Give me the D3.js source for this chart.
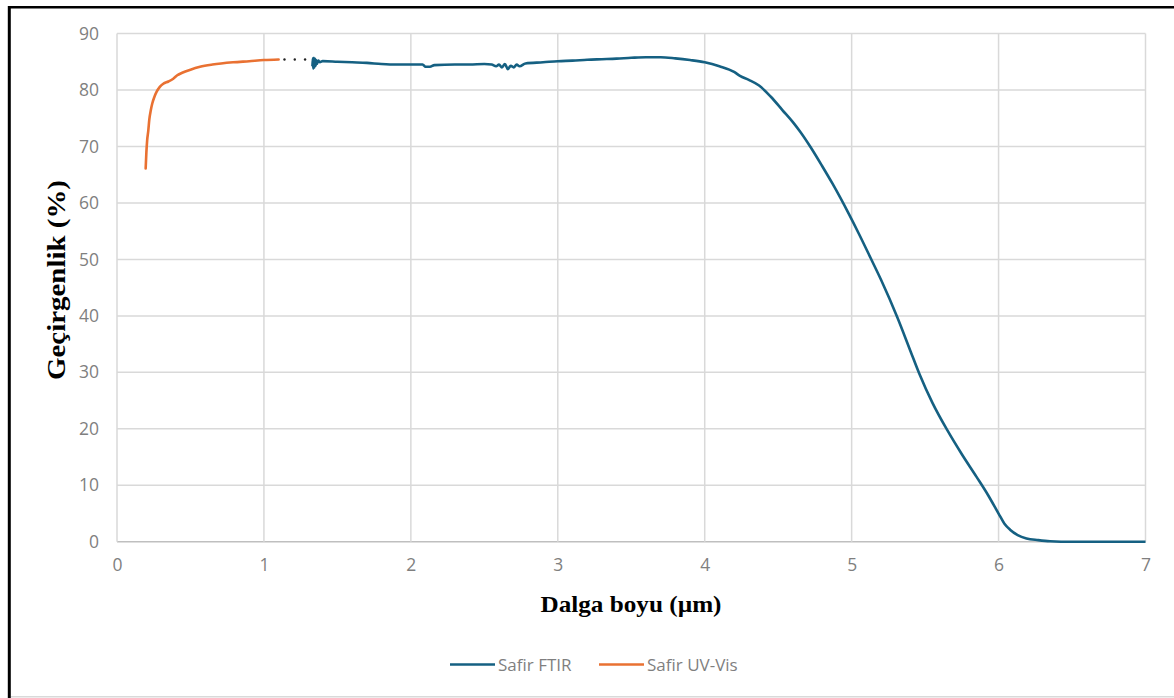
<!DOCTYPE html>
<html>
<head>
<meta charset="utf-8">
<script src="https://cdn.jsdelivr.net/npm/d3@7/dist/d3.min.js"></script>
<style>
html,body{margin:0;padding:0;background:#fff;}
svg{display:block;}
</style>
</head>
<body>
<svg id="chart" width="1174" height="698"></svg>
<script>
// ---- data ----
const xTicks = [0,1,2,3,4,5,6,7];
const yTicks = [0,10,20,30,40,50,60,70,80,90];
const seriesNames = ["Safir FTIR", "Safir UV-Vis"];
const uvVis = [[0.195,66.1],[0.2,69.0],[0.205,71.0],[0.213,72.8],[0.22,74.8],[0.23,76.4],[0.24,77.6],[0.255,78.8],[0.27,79.7],[0.29,80.5],[0.315,81.1],[0.35,81.5],[0.383,82.0],[0.41,82.6],[0.44,83.0],[0.5,83.6],[0.565,84.1],[0.65,84.5],[0.79,84.9],[0.9,85.1],[1.0,85.3],[1.1,85.4]];
const ftir = [[1.33,84.2],[1.333,85.6],[1.336,83.8],[1.34,85.7],[1.344,84.0],[1.348,85.5],[1.352,84.3],[1.356,85.3],[1.36,84.6],[1.37,85.2],[1.38,84.9],[1.4,85.1],[1.5,85.0],[1.6,84.9],[1.7,84.8],[1.8,84.6],[1.9,84.5],[2.0,84.5],[2.08,84.5],[2.1,84.1],[2.13,84.1],[2.16,84.4],[2.3,84.5],[2.4,84.5],[2.5,84.6],[2.55,84.5],[2.58,84.2],[2.6,84.5],[2.62,84.0],[2.64,84.6],[2.66,83.7],[2.68,84.3],[2.7,84.0],[2.72,84.5],[2.74,84.2],[2.78,84.7],[2.9,84.9],[3.0,85.1],[3.1,85.2],[3.2,85.35],[3.3,85.45],[3.4,85.55],[3.5,85.7],[3.6,85.8],[3.7,85.8],[3.8,85.6],[3.9,85.3],[4.0,84.9],[4.1,84.2],[4.2,83.2],[4.24,82.5],[4.3,81.8],[4.37,80.8],[4.45,78.8],[4.53,76.4],[4.6,74.3],[4.65,72.6],[4.72,69.9],[4.8,66.5],[4.87,63.4],[4.98,58.1],[5.05,54.5],[5.13,50.2],[5.2,46.4],[5.31,39.8],[5.4,33.8],[5.46,29.8],[5.55,24.6],[5.65,19.8],[5.75,15.5],[5.85,11.5],[5.93,8.2],[6.0,5.0],[6.04,3.2],[6.08,2.1],[6.13,1.2],[6.19,0.6],[6.27,0.3],[6.35,0.1],[6.5,0],[7.0,0]];
const gapDots = [[1.14,85.4],[1.21,85.4],[1.28,85.4]];

// ---- layout ----
const svg = d3.select("#chart");
const L = 117, R = 1145.5, T = 33.5, B = 541.8;
const x = d3.scaleLinear().domain([0,7]).range([L,R]);
const y = d3.scaleLinear().domain([0,90]).range([B,T]);
const colors = {"Safir FTIR":"#156082","Safir UV-Vis":"#E97132"};
const tickFont = "'Open Sans', 'Noto Sans', sans-serif";
const serif = "'Liberation Serif', 'Times New Roman', serif";

// frame of the picture
svg.append("rect").attr("x",0).attr("y",0).attr("width",1174).attr("height",698).attr("fill","#fff");
svg.append("line").attr("x1",9.3).attr("x2",9.3).attr("y1",6).attr("y2",698).attr("stroke","#000").attr("stroke-width",3);
svg.append("line").attr("x1",8).attr("x2",1174).attr("y1",7.2).attr("y2",7.2).attr("stroke","#000").attr("stroke-width",2.5);
svg.append("line").attr("x1",11).attr("x2",1174).attr("y1",696.8).attr("y2",696.8).attr("stroke","#d9d9d9").attr("stroke-width",1.5);

// gridlines
const grid = svg.append("g");
grid.selectAll("line.h").data(yTicks).join("line")
  .attr("x1",L).attr("x2",R).attr("y1",d=>y(d)).attr("y2",d=>y(d))
  .attr("stroke",d=>d===0?"#bfbfbf":"#d9d9d9").attr("stroke-width",1.5);
grid.selectAll("line.v").data(xTicks).join("line")
  .attr("y1",T).attr("y2",B).attr("x1",d=>x(d)).attr("x2",d=>x(d))
  .attr("stroke","#d9d9d9").attr("stroke-width",1.5);

// axes (labels only)
const xAxis = d3.axisBottom(x).tickValues(xTicks).tickSize(0).tickPadding(17).tickFormat(d3.format("d"));
const yAxis = d3.axisLeft(y).tickValues(yTicks).tickSize(0).tickPadding(18).tickFormat(d3.format("d"));
const gx = svg.append("g").attr("transform",`translate(0,${B})`).call(xAxis);
const gy = svg.append("g").attr("transform",`translate(${L},0)`).call(yAxis);
[gx,gy].forEach(g=>{
  g.select(".domain").remove();
  g.selectAll("text").attr("fill","#7f7f7f").style("font-family",tickFont).style("font-size","17.5px");
});

// lines
const line = d3.line().x(d=>x(d[0])).y(d=>y(d[1])).curve(d3.curveMonotoneX);
svg.append("path").datum(ftir).attr("d",line).attr("fill","none")
  .attr("stroke",colors["Safir FTIR"]).attr("stroke-width",2.6).attr("stroke-linejoin","round");
svg.append("path").datum(uvVis).attr("d",line).attr("fill","none")
  .attr("stroke",colors["Safir UV-Vis"]).attr("stroke-width",2.6).attr("stroke-linejoin","round").attr("stroke-linecap","round");
svg.selectAll("circle.gap").data(gapDots).join("circle")
  .attr("cx",d=>x(d[0])).attr("cy",d=>y(d[1])).attr("r",1.2).attr("fill","#222");

// axis titles
svg.append("text").attr("x",631).attr("y",612).attr("text-anchor","middle")
  .style("font-family",serif).style("font-weight","bold").style("font-size","24px")
  .attr("textLength",181).attr("lengthAdjust","spacingAndGlyphs")
  .attr("fill","#000").text("Dalga boyu (µm)");
svg.append("text").attr("transform","translate(65,280) rotate(-90)").attr("text-anchor","middle")
  .style("font-family",serif).style("font-weight","bold").style("font-size","26px")
  .attr("textLength",200).attr("lengthAdjust","spacingAndGlyphs")
  .attr("fill","#000").text("Geçirgenlik (%)");

// legend
const legendX = [450, 599];
const lg = svg.append("g");
seriesNames.forEach((n,i)=>{
  lg.append("line").attr("x1",legendX[i]).attr("x2",legendX[i]+45).attr("y1",664.5).attr("y2",664.5)
    .attr("stroke",colors[n]).attr("stroke-width",2.6);
  lg.append("text").attr("x",legendX[i]+48).attr("y",670.5).attr("fill","#7f7f7f")
    .style("font-family",tickFont).style("font-size","17px").text(n);
});
</script>
</body>
</html>
